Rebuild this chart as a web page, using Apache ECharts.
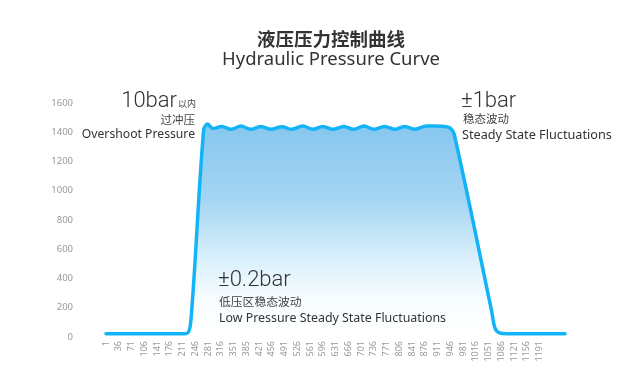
<!DOCTYPE html>
<html>
<head>
<meta charset="utf-8">
<script src="https://cdn.jsdelivr.net/npm/echarts@6/dist/echarts.min.js"></script>
<style>html,body{margin:0;padding:0;background:#fff}#c{width:637px;height:382px}</style>
</head>
<body>
<div id="c"></div>
<script>
// x tick labels (every 35 samples)
var tickLabels = ['1','36','71','106','141','176','211','246','281','316','351','385','421','456','491','526','561','596','631','666','701','736','771','806','841','876','911','946','981','1016','1051','1086','1121','1156','1191'];
// sample offsets (sample index - 1) and pressure values
var sampleX = [0, 100, 200, 222, 233, 268, 279, 293, 318, 343, 370, 398, 425, 453, 483, 510, 540, 568, 595, 623, 653, 680, 708, 735, 765, 793, 820, 848, 880, 905, 930, 945, 956, 1058, 1068, 1080, 1100, 1180, 1260];
var pressure = [22, 22, 22, 25, 110, 1415, 1456, 1425, 1440, 1420, 1442, 1420, 1440, 1420, 1438, 1420, 1442, 1420, 1440, 1420, 1440, 1420, 1442, 1420, 1440, 1420, 1440, 1420, 1442, 1442, 1440, 1428, 1385, 185, 60, 28, 22, 22, 22];
var yTicks = [0, 200, 400, 600, 800, 1000, 1200, 1400, 1600];

var data = sampleX.map(function (x, i) { return [x, pressure[i]]; });

var chart = echarts.init(document.getElementById('c'));
function txt(t, x, y, size, align, color, extra) {
  var s = {text: t, x: x, y: y, fontSize: size, textAlign: align, textVerticalAlign: 'middle', fill: color || '#333', fontFamily: '"Noto Sans", "Noto Sans CJK SC", sans-serif'};
  if (extra) for (var k in extra) s[k] = extra[k];
  return {type: 'text', style: s, z: 100};
}
chart.setOption({
  animation: false,
  grid: {left: 106, right: 72, top: 103, bottom: 45},
  xAxis: {
    type: 'value', min: 0, max: 1260, interval: 35,
    axisLine: {show: false}, axisTick: {show: false}, splitLine: {show: false},
    axisLabel: {
      rotate: 90, fontSize: 9, color: '#999', margin: 4,
      fontFamily: '"Noto Sans", sans-serif',
      formatter: function (v) { var i = Math.round(v / 35); return tickLabels[i] || ''; }
    }
  },
  yAxis: {
    type: 'value', min: 0, max: 1600, interval: 200,
    axisLine: {show: false}, axisTick: {show: false}, splitLine: {show: false},
    axisLabel: {fontSize: 9.5, color: '#999', margin: 33, fontFamily: '"Noto Sans", sans-serif',
      formatter: function (v) { return yTicks.indexOf(v) >= 0 ? String(v) : ''; }}
  },
  series: [{
    type: 'line', data: data, smooth: 0.35, symbol: 'none',
    lineStyle: {color: '#12b4f7', width: 3.5, cap: 'round', join: 'round'},
    areaStyle: {
      color: new echarts.graphic.LinearGradient(0, 0, 0, 1, [
        {offset: 0, color: '#52aee6'},
        {offset: 0.35, color: '#7cc2ee'},
        {offset: 0.62, color: '#c6e7f9'},
        {offset: 0.82, color: '#f2fafe'},
        {offset: 1, color: '#ffffff'}
      ])
    }
  }],
  graphic: [
    txt('液压压力控制曲线', 331, 39, 18.5, 'center', '#333', {fontWeight: 'bold', fontFamily: '"Noto Sans CJK SC", sans-serif'}),
    txt('Hydraulic Pressure Curve', 331, 60, 18.5, 'center', '#333'),
    txt('10bar', 177, 101, 22, 'right', '#333', {fontFamily: 'Roboto', fontWeight: 300}),
    txt('以内', 196, 104, 9, 'right', '#444', {fontFamily: '"Noto Sans CJK SC", sans-serif'}),
    txt('过冲压', 195, 120, 11.5, 'right', '#444', {fontFamily: '"Noto Sans CJK SC", sans-serif'}),
    txt('Overshoot Pressure', 195, 135, 12.2, 'right', '#333'),
    txt('±1bar', 461, 101, 22, 'left', '#333', {fontFamily: 'Roboto', fontWeight: 300}),
    txt('稳态波动', 463, 119, 11.5, 'left', '#444', {fontFamily: '"Noto Sans CJK SC", sans-serif'}),
    txt('Steady State Fluctuations', 462, 135.5, 12.7, 'left', '#333'),
    txt('±0.2bar', 218, 280, 22, 'left', '#333', {fontFamily: 'Roboto', fontWeight: 300}),
    txt('低压区稳态波动', 219, 302, 11.8, 'left', '#444', {fontFamily: '"Noto Sans CJK SC", sans-serif'}),
    txt('Low Pressure Steady State Fluctuations', 219, 318, 12.4, 'left', '#333')
  ]
});
</script>
</body>
</html>
